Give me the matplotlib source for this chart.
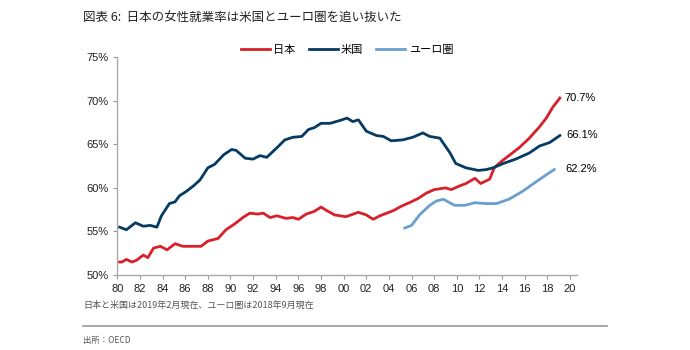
import matplotlib.pyplot as plt

plt.rcParams['font.family'] = ['Liberation Sans', 'Noto Sans CJK JP', 'DejaVu Sans']

# 日本
jp_year = [1980.2, 1980.4, 1980.8, 1981.3, 1981.7, 1982.3, 1982.7, 1983.2, 1983.8, 1984.4,
           1985.1, 1985.8, 1986.7, 1987.4, 1988.0, 1988.9, 1989.6, 1990.4, 1991.1, 1991.7,
           1992.4, 1992.9, 1993.5, 1994.1, 1994.9, 1995.5, 1996.0, 1996.7, 1997.4, 1998.0,
           1998.5, 1999.2, 2000.2, 2001.3, 2002.0, 2002.6, 2003.2, 2003.8, 2004.4, 2005.1,
           2005.8, 2006.6, 2007.3, 2008.0, 2009.0, 2009.5, 2010.2, 2010.8, 2011.6, 2012.1,
           2012.9, 2013.3, 2013.9, 2014.7, 2015.5, 2016.4, 2017.3, 2017.9, 2018.5, 2019.1]
jp_val = [51.5, 51.5, 51.8, 51.5, 51.7, 52.3, 52.0, 53.1, 53.3, 52.9,
          53.6, 53.3, 53.3, 53.3, 53.9, 54.2, 55.2, 55.9, 56.6, 57.1,
          57.0, 57.1, 56.6, 56.8, 56.5, 56.6, 56.4, 57.0, 57.3, 57.8,
          57.4, 56.9, 56.7, 57.2, 56.9, 56.4, 56.8, 57.1, 57.4, 57.9,
          58.3, 58.8, 59.4, 59.8, 60.0, 59.8, 60.2, 60.5, 61.1, 60.5,
          61.0, 62.3, 63.0, 63.8, 64.6, 65.7, 67.0, 68.0, 69.3, 70.3]

# 米国
us_year = [1980.2, 1980.8, 1981.6, 1982.3, 1982.9, 1983.5, 1983.9, 1984.6, 1985.1, 1985.5,
           1986.1, 1986.7, 1987.3, 1988.0, 1988.6, 1989.4, 1990.1, 1990.5, 1991.3, 1992.0,
           1992.6, 1993.2, 1994.1, 1994.8, 1995.5, 1996.3, 1996.9, 1997.4, 1998.0, 1998.8,
           1999.6, 2000.3, 2000.8, 2001.3, 2002.0, 2002.9, 2003.5, 2004.2, 2005.2, 2006.1,
           2007.0, 2007.6, 2008.5, 2009.4, 2009.9, 2010.8, 2011.9, 2012.6, 2013.2, 2014.1,
           2015.2, 2016.4, 2017.3, 2018.2, 2019.1]
us_val = [55.5, 55.2, 56.0, 55.6, 55.7, 55.5, 56.8, 58.2, 58.4, 59.1,
          59.6, 60.2, 60.9, 62.3, 62.7, 63.8, 64.4, 64.3, 63.4, 63.3,
          63.7, 63.5, 64.6, 65.5, 65.8, 65.9, 66.7, 66.9, 67.4, 67.4,
          67.7, 68.0, 67.6, 67.8, 66.5, 66.0, 65.9, 65.4, 65.5, 65.8,
          66.3, 65.9, 65.7, 64.0, 62.8, 62.3, 62.0, 62.1, 62.3, 62.8,
          63.3, 64.0, 64.8, 65.2, 66.0]

# ユーロ圏
eu_year = [2005.4, 2006.0, 2006.7, 2007.6, 2008.2, 2008.8, 2009.8, 2010.7, 2011.6, 2012.6,
           2013.5, 2014.6, 2015.8, 2017.0, 2017.9, 2018.6]
eu_val = [55.4, 55.7, 56.9, 58.0, 58.5, 58.7, 58.0, 58.0, 58.3, 58.2,
          58.2, 58.7, 59.6, 60.7, 61.5, 62.1]

end_labels = ['70.7%', '66.1%', '62.2%']
x_ticks = list(range(1980, 2021, 2))
x_ticklabels = ['%02d' % (y % 100) for y in x_ticks]
y_ticks = [50, 55, 60, 65, 70, 75]

fig = plt.figure(figsize=(6.9, 3.5), dpi=100)
ax = fig.add_axes([0.17, 0.214, 0.666, 0.623])

red = '#d7202a'
navy = '#053a63'
light = '#6a9fd0'
lw = 2.0
ax.plot(jp_year, jp_val, color=red, lw=lw, label='日本')
ax.plot(us_year, us_val, color=navy, lw=lw, label='米国')
ax.plot(eu_year, eu_val, color=light, lw=lw, label='ユーロ圏')

ax.text(jp_year[-1] + 0.4, jp_val[-1] + 0.05, end_labels[0], fontsize=8, va='center')
ax.text(us_year[-1] + 0.6, us_val[-1] + 0.05, end_labels[1], fontsize=8, va='center')
ax.text(eu_year[-1] + 1.0, eu_val[-1] + 0.1, end_labels[2], fontsize=8, va='center')

ax.set_xlim(1980, 2020.6)
ax.set_ylim(50, 75)
ax.set_xticks(x_ticks)
ax.set_xticklabels(x_ticklabels)
ax.set_yticks(y_ticks)
ax.set_yticklabels(['%d%%' % v for v in y_ticks])
ax.tick_params(labelsize=8, colors='#222222', length=3, width=0.8)
ax.tick_params(axis='both', color='#999999')
for s in ['top', 'right']:
    ax.spines[s].set_visible(False)
for s in ['left', 'bottom']:
    ax.spines[s].set_color('#aaaaaa')
    ax.spines[s].set_linewidth(1.0)

fig.legend(loc='center', bbox_to_anchor=(347 / 690, 1 - 50 / 350), ncol=3, frameon=False,
           fontsize=8, handlelength=2.6, columnspacing=1.2, handletextpad=0.3)

fig.text(83 / 690, 1 - 18 / 350, '図表 6:  日本の女性就業率は米国とユーロ圏を追い抜いた',
         fontsize=9, color='#222222', va='center', family=['Noto Sans CJK JP', 'DejaVu Sans'])
fig.text(83 / 690, 1 - 305 / 350, '日本と米国は2019年2月現在、ユーロ圏は2018年9月現在',
         fontsize=6.5, color='#555555', va='center', family=['Noto Sans CJK JP', 'DejaVu Sans'])
fig.add_artist(plt.Line2D([83 / 690, 607 / 690], [1 - 326 / 350, 1 - 326 / 350],
                          color='#999999', lw=1.2))
fig.text(83 / 690, 1 - 340 / 350, '出所：OECD', fontsize=6, color='#555555', va='center',
         family=['Noto Sans CJK JP', 'DejaVu Sans'])

fig.savefig('out.png', dpi=100)
